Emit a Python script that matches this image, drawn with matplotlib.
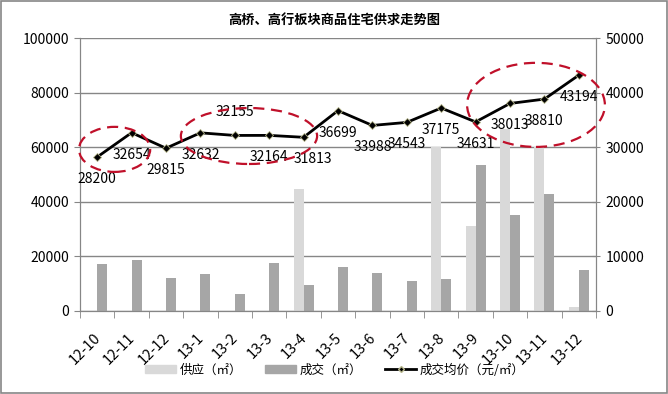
import matplotlib.pyplot as plt
import matplotlib.transforms as mtransforms
from matplotlib.patches import Ellipse, Rectangle
from matplotlib.lines import Line2D
import numpy as np

plt.rcParams['font.family'] = ['Noto Sans CJK SC', 'DejaVu Sans']

months = ['12-10', '12-11', '12-12', '13-1', '13-2', '13-3', '13-4', '13-5',
          '13-6', '13-7', '13-8', '13-9', '13-10', '13-11', '13-12']
supply = [0, 0, 0, 0, 0, 0, 44700, 0, 0, 0, 60000, 31100, 66500, 60000, 1400]
deals = [17200, 18700, 12100, 13500, 6200, 17600, 9500, 16100, 13900, 11100,
         11700, 53500, 35200, 42900, 15000]
avg_price = [28200, 32654, 29815, 32632, 32155, 32164, 31813, 36699, 33988,
             34543, 37175, 34631, 38013, 38810, 43194]

# label offsets in pixels (most labels sit under their point)
label_offsets = {4: (0, 23), 6: (9, -22)}

grid_c = '#868686'
fig = plt.figure(figsize=(6.68, 3.94), dpi=100)
ax = fig.add_axes([80 / 668, 83 / 394, 516 / 668, 273 / 394])
ax2 = ax.twinx()

x = np.arange(len(months))
w = 0.29
ax.bar(x - w / 2, supply, width=w, color='#D9D9D9', zorder=2)
ax.bar(x + w / 2, deals, width=w, color='#A6A6A6', zorder=2)

ax.set_xlim(-0.5, len(months) - 0.5)
ax.set_ylim(0, 100000)
ax.set_yticks(np.arange(0, 100001, 20000))
ax.yaxis.grid(True, color=grid_c, linewidth=1)
ax.set_axisbelow(True)
ax.set_xticks(x)
ax.set_xticklabels(months, rotation=45, ha='right', fontsize=10.5)
ax.set_xticks(np.arange(-0.5, len(months), 1), minor=True)
ax.tick_params(axis='x', which='major', length=0, pad=14)
ax.tick_params(axis='x', which='minor', length=5, color=grid_c, direction='out')
ax.tick_params(axis='y', length=4, color=grid_c, labelsize=10, pad=4)
shift = mtransforms.ScaledTranslation(6 / 100, 0, fig.dpi_scale_trans)
for lab in ax.get_xticklabels():
    lab.set_transform(lab.get_transform() + shift)

ax2.plot(x, avg_price, color='black', linewidth=2, marker='D', markersize=4,
         markerfacecolor='black', markeredgecolor='#b5b58a', markeredgewidth=0.6,
         zorder=3)
ax2.set_ylim(0, 50000)
ax2.set_yticks(np.arange(0, 50001, 10000))
ax2.tick_params(axis='y', length=6, color=grid_c, direction='inout', labelsize=10, pad=4)

for a in (ax, ax2):
    a.spines['top'].set_visible(False)
    for s in ('left', 'right', 'bottom'):
        a.spines[s].set_color(grid_c)

for i, v in enumerate(avg_price):
    dx, dy = label_offsets.get(i, (0, -22))
    ax2.annotate(str(v), (x[i], v), xytext=(dx, dy), textcoords='offset pixels',
                 ha='center', va='center', fontsize=10, zorder=4)

# red dashed highlight ellipses
for cx, cy, ew, eh in [(0.067, 0.592, 0.138, 0.165),
                       (0.3275, 0.641, 0.264, 0.205),
                       (0.8837, 0.755, 0.267, 0.308)]:
    ax2.add_patch(Ellipse((cx, cy), ew, eh, transform=ax2.transAxes, fill=False,
                          edgecolor='#C0102A', linewidth=1.6, linestyle=(0, (5, 3)),
                          clip_on=False, zorder=5))

fig.suptitle('高桥、高行板块商品住宅供求走势图', x=0.5, y=0.968, fontsize=9.5,
             fontweight='bold')

handles = [Rectangle((0, 0), 1, 1, color='#D9D9D9'),
           Rectangle((0, 0), 1, 1, color='#A6A6A6'),
           Line2D([], [], color='black', linewidth=2, marker='D', markersize=3,
                  markerfacecolor='black', markeredgecolor='#b5b58a')]
fig.legend(handles, ['供应（㎡）', '成交（㎡）', '成交均价（元/㎡）'],
           loc='center', bbox_to_anchor=(335 / 668, 24 / 394), ncol=3,
           frameon=False, fontsize=9, handlelength=2.5, handleheight=0.55,
           handletextpad=0.3, columnspacing=1.8)

fig.add_artist(Rectangle((0.001, 0.002), 0.997, 0.995, transform=fig.transFigure,
                         fill=False, edgecolor=grid_c, linewidth=1.2))

fig.savefig('out.png', dpi=100)
